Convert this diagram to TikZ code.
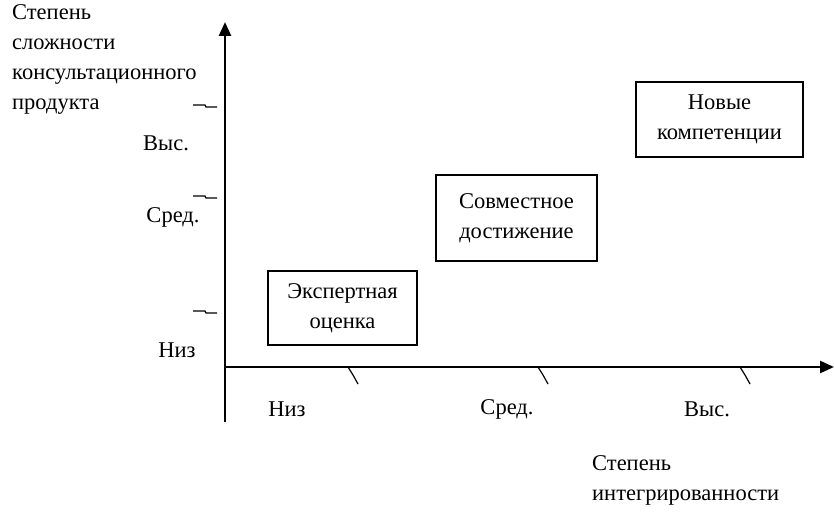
\documentclass[tikz,border=0pt]{standalone}
\usepackage{fontspec}
\setmainfont{Liberation Serif}
\usetikzlibrary{arrows.meta}

\begin{document}
\begin{tikzpicture}[x=1pt,y=-1pt,
   every node/.style={font=\fontsize{22.5}{30}\selectfont},
   axis/.style={line width=2.6pt,-{Triangle[length=14pt,width=12pt]}},
   stagebox/.style={draw,line width=1.6pt,align=center,inner sep=0pt},
   tick/.style={line width=1.2pt}]
   \useasboundingbox (0,0) rectangle (834,511);
   % axes
   \coordinate (o) at (225,367);
   \coordinate (ytop) at (225,22);
   \coordinate (xend) at (834,367);
   \coordinate (ybot) at (225,422);
   \draw[axis] (ybot) -- (ytop);
   \draw[axis] (o) -- (xend);
   % ticks on the vertical axis
   \foreach \y in {105,196,311}
      \draw[tick] (193,\y) -- (205,\y) -- (206,\y+2) -- (217,\y+2);
   % ticks on the horizontal axis
   \foreach \x in {348,538,740}
      \draw[tick] (\x,367) -- (\x+5,375) -- (\x+10,384);
   % levels
   \node (yhi)  at (166,143) {Выс.};
   \node (ymid) at (173,217) {Сред.};
   \node (ylow) at (177,350) {Низ};
   \node (xlow) at (287,409) {Низ};
   \node (xmid) at (507,409) {Сред.};
   \node (xhi)  at (707,409) {Выс.};
   % axis titles
   \node[anchor=north west,align=left,inner sep=0pt] (ytitle) at (12,4)
      {Степень\\сложности\\консультационного\\продукта};
   \node[anchor=north west,align=left,inner sep=0pt] (xtitle) at (592,455)
      {Степень\\интегрированности};
   % stages
   \node[stagebox,minimum width=149pt,minimum height=74pt] (expert) at (342.5,308)
      {Экспертная\\оценка};
   \node[stagebox,minimum width=161pt,minimum height=86pt] (joint) at (516.5,218)
      {Совместное\\достижение};
   \node[stagebox,minimum width=167pt,minimum height=75pt] (newcomp) at (719.5,119.5)
      {Новые\\компетенции};
\end{tikzpicture}
\end{document}
